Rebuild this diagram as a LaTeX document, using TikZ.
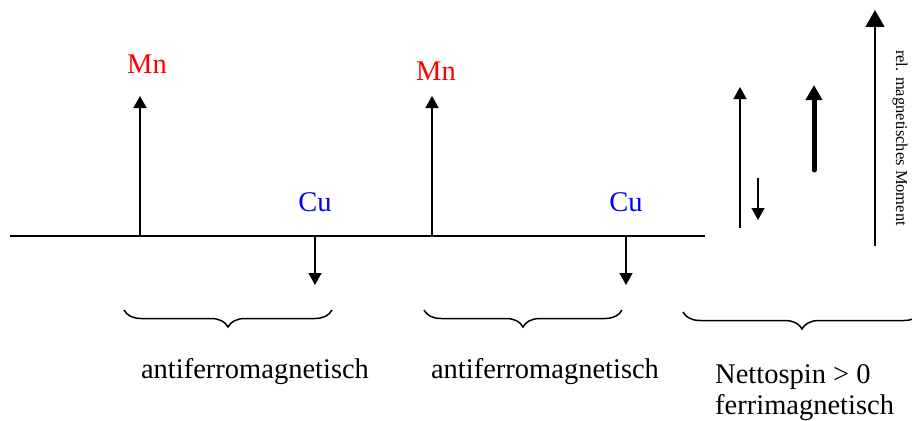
\documentclass[tikz,border=0pt]{standalone}
\usepackage{fontspec}
\setmainfont{Liberation Serif}
\usetikzlibrary{arrows.meta, positioning, decorations.pathreplacing}

\tikzset{
  spin/.style={-{Triangle[length=12pt,width=13pt]}, line width=1.4pt},
  dickspin/.style={-{Triangle[length=15pt,width=16pt]}, line width=5pt, line cap=round},
  achse/.style={-{Triangle[length=17pt,width=19pt]}, line width=1.4pt},
  klammer/.style={decorate, decoration={brace, mirror, amplitude=17pt}, line width=1.5pt},
  gross/.style={font=\fontsize{28.5}{31}\selectfont, inner sep=0pt},
  klein/.style={font=\fontsize{16.5}{18}\selectfont, inner sep=0pt}
}

\begin{document}
\begin{tikzpicture}[x=1pt, y=-1pt]
  \useasboundingbox (0,0) rectangle (912,420);

  % Kette
  \coordinate (links) at (10,236);
  \coordinate (rechts) at (705,236);
  \draw[line width=1.4pt] (links) -- (rechts);

  \coordinate (mn1fuss) at (140,236);
  \coordinate (mn1spitze) at (140,96);
  \coordinate (cu1fuss) at (315,236);
  \coordinate (cu1spitze) at (315,285);
  \coordinate (mn2fuss) at (432,236);
  \coordinate (mn2spitze) at (432,96);
  \coordinate (cu2fuss) at (626,236);
  \coordinate (cu2spitze) at (626,285);

  \draw[spin] (mn1fuss) -- (mn1spitze);
  \draw[spin] (cu1fuss) -- (cu1spitze);
  \draw[spin] (mn2fuss) -- (mn2spitze);
  \draw[spin] (cu2fuss) -- (cu2spitze);

  \node[gross, text=red] (mn1) at (147,64) {Mn};
  \node[gross, text=red] (mn2) at (436,71) {Mn};
  \node[gross, text=blue] (cu1) at (315,202) {Cu};
  \node[gross, text=blue] (cu2) at (626,202) {Cu};

  % Klammern
  \coordinate (k1a) at (124,310);
  \coordinate (k1b) at (332,310);
  \coordinate (k2a) at (424,310);
  \coordinate (k2b) at (622,310);
  \coordinate (k3a) at (683,312);
  \coordinate (k3b) at (921,312);
  \draw[klammer] (k1a) -- (k1b);
  \draw[klammer] (k2a) -- (k2b);
  \draw[klammer] (k3a) -- (k3b);

  \node[gross, anchor=base] (af1) at (255,378) {antiferromagnetisch};
  \node[gross, anchor=base] (af2) at (545,378) {antiferromagnetisch};
  \node[gross, anchor=base west] (netto) at (715,383) {Nettospin > 0};
  \node[gross, anchor=base west] (ferri) at (715,414) {ferrimagnetisch};

  % Summe
  \coordinate (aufa) at (740,228);
  \coordinate (aufb) at (740,87);
  \coordinate (aba) at (758,178);
  \coordinate (abb) at (758,220);
  \coordinate (netta) at (814,170);
  \coordinate (nettb) at (814,85);
  \draw[spin] (aufa) -- (aufb);
  \draw[spin] (aba) -- (abb);
  \draw[dickspin] (netta) -- (nettb);

  % Achse
  \coordinate (achsea) at (875,246);
  \coordinate (achseb) at (875,10);
  \draw[achse] (achsea) -- (achseb);
  \node[klein, rotate=-90] (moment) at (900,138) {rel. magnetisches Moment};
\end{tikzpicture}
\end{document}
